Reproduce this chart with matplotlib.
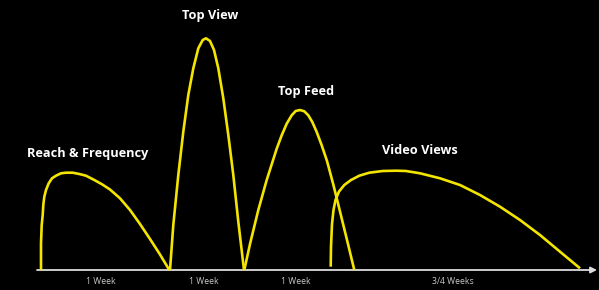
import matplotlib
matplotlib.use("Agg")
import matplotlib.pyplot as plt

# ---- data (x position, height above baseline) ----
reach_x = [41, 41, 41.7, 42.7, 43.3, 44.3, 46, 48.7, 52, 56, 61, 66, 72.7, 79.3, 86, 94.3,
           102, 110, 120, 130, 140, 150, 160, 169.3]
reach_h = [0, 26.7, 45, 55, 65, 73.3, 80, 86.7, 91.7, 94.3, 96.7, 97.3, 97.3, 96, 94.3, 90,
           85.7, 80.5, 71.7, 60, 46, 31, 15.5, 0]

topview_x = [170, 173.3, 178.3, 183.3, 188.3, 193.3, 198.3, 202.7, 206, 210, 214, 218.3,
             223.3, 228.3, 233.3, 238.3, 244]
topview_h = [0, 45, 95, 138.3, 175, 201.7, 221.7, 230, 231.7, 229, 220, 201.7,
             171.7, 135, 95, 48.3, 0]

topfeed_x = [244.3, 250, 258.3, 266.7, 276.7, 281.7, 286.7, 291.7, 295.7, 300, 304.3, 308.3,
             312.3, 316.7, 321.7, 327, 333.3, 340, 347, 354.3]
topfeed_h = [0, 26, 60, 90, 121.3, 134.7, 146.3, 154.7, 159, 160, 158.7, 154.7,
             148, 138, 124.7, 109, 85.5, 58.5, 30, 0]

video_x = [330.7, 331, 332, 333.5, 335.5, 339, 344.3, 351, 359.3, 369.3, 382.7, 396, 406,
           420, 440, 460, 480, 500, 520, 540, 560, 580]
video_h = [3.3, 23.3, 46, 60, 70, 78.5, 85, 90, 94.3, 97.3, 99, 99.3, 99,
           96.7, 91.7, 85, 75, 63.3, 50, 35, 18.3, 1.7]

series_names = ["Reach & Frequency", "Top View", "Top Feed", "Video Views"]
series_x = [reach_x, topview_x, topfeed_x, video_x]
series_h = [reach_h, topview_h, topfeed_h, video_h]
label_pos = [(87.5, 117), (210, 255), (306.5, 179), (419.5, 120)]

week_labels = ["1 Week", "1 Week", "1 Week", "3/4 Weeks"]
week_pos = [101, 203.5, 296, 453]

YELLOW = "#f3e500"

fig = plt.figure(figsize=(5.99, 2.90), dpi=100, facecolor="black")
ax = fig.add_axes([0, 0, 1, 1])
ax.set_facecolor("black")
ax.set_xlim(0, 599)
ax.set_ylim(-20, 270)
ax.axis("off")

# baseline with arrow
ax.annotate("", xy=(597, 0), xytext=(37, 0),
            arrowprops=dict(arrowstyle="-|>", color="#dcdcdc", lw=1.3,
                            mutation_scale=9, shrinkA=0, shrinkB=0))

for xs, hs in zip(series_x, series_h):
    ax.plot(xs, hs, color=YELLOW, lw=1.9, solid_joinstyle="round",
            solid_capstyle="butt", zorder=3, antialiased=True)

for name, (lx, ly) in zip(series_names, label_pos):
    ax.text(lx, ly, name, color="white", fontsize=9.2, fontweight="bold",
            family="Open Sans", ha="center", va="center")

for lab, px in zip(week_labels, week_pos):
    ax.text(px, -11.8, lab, color="#c8c8c8", fontsize=6.2,
            family="Open Sans", ha="center", va="center")

fig.savefig("out.png", dpi=100, facecolor="black")
